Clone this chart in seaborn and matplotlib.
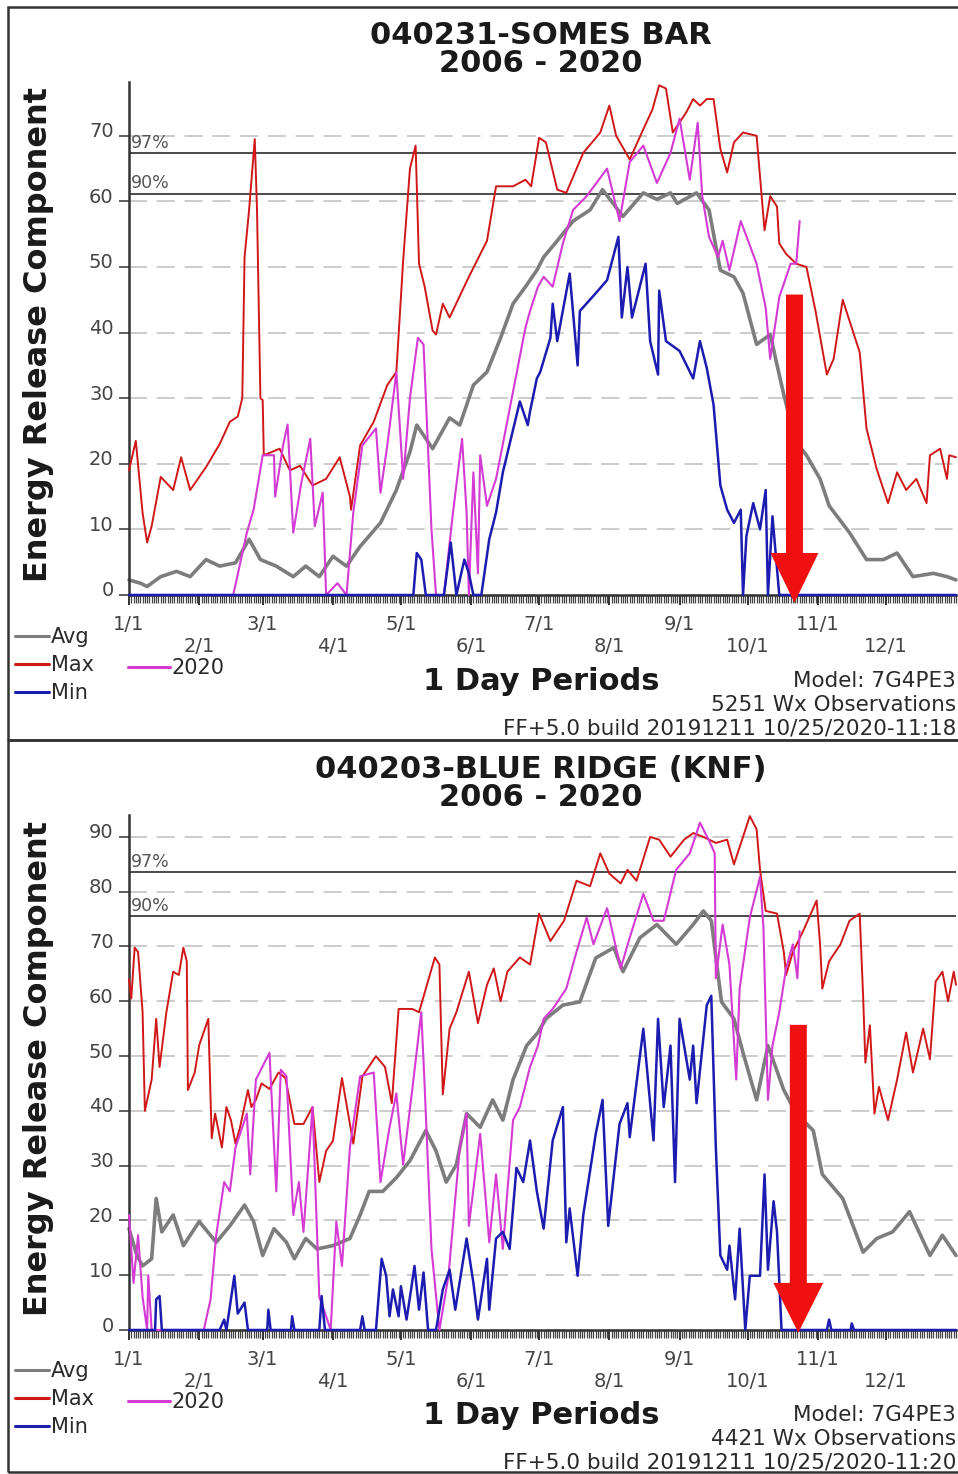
import matplotlib
matplotlib.use("Agg")
import matplotlib.pyplot as plt
import matplotlib.transforms as mtransforms
from matplotlib.patches import Rectangle, FancyArrow
from matplotlib.lines import Line2D
import pandas as pd
import seaborn as sns

# ------------------------------------------------------------------ data
# x = day of year counted from Jan 1 (0), y = Energy Release Component
MONTH_DAYS = [0, 31, 59, 90, 120, 151, 181, 212, 243, 273, 304, 334]
MONTH_LABELS = ["1/1", "2/1", "3/1", "4/1", "5/1", "6/1",
                "7/1", "8/1", "9/1", "10/1", "11/1", "12/1"]

# ---- 040231 SOMES BAR
SB_MAX_DAY = [0, 3, 6, 8, 10, 14, 19.5, 23, 27, 34, 40, 44.5, 48, 50, 51, 53, 55.5, 56.5, 58, 59,
              59.5, 66.5, 71, 75.5, 81, 87, 93, 97.5, 98, 102, 108, 114, 118, 121, 124, 126.5, 128,
              130.5, 134, 135.5, 138.5, 141.5, 150, 158, 162, 169.5, 175, 177.5, 181, 184, 189, 193,
              200.5, 208, 212, 215, 221, 227, 231, 234, 237, 240, 246, 249, 252, 255, 258, 261, 264,
              267, 271, 277, 278.5, 280.5, 283, 286, 287, 290, 294.5, 299, 303, 308, 311, 315, 322.5,
              325.5, 330, 335, 339, 343, 347.5, 352, 353.5, 358, 361, 362, 365]
SB_MAX_VAL = [19, 23.5, 12.5, 8, 10.5, 18, 16, 21, 16, 19.5, 23, 26.4, 27.2, 30, 51.5, 58.7, 69.5, 58.7,
              30, 29.7, 21.3, 22.3, 19, 19.7, 16.7, 17.7, 21, 15, 13, 22.8, 26.4, 32, 34, 51, 65, 68.5,
              50.5, 47, 40.3, 39.7, 44.4, 42.3, 48.5, 54, 62.3, 62.3, 63.3, 62.3, 69.7, 69, 61.8, 61.3,
              67.4, 70.5, 74.6, 70, 66.4, 71, 74, 77.7, 77.2, 70.5, 73.6, 75.6, 74.6, 75.6, 75.6, 68,
              64.4, 69, 70.5, 70, 63.8, 55.6, 60.8, 59.2, 53.6, 52, 50.5, 50, 43.3, 33.6, 36, 45, 37,
              25.4, 19.2, 14, 18.7, 16, 17.7, 14, 21.3, 22.3, 17.7, 21.3, 21]

SB_AVG_DAY = [0, 5, 8, 14, 21, 27, 34, 40, 47, 53, 58, 65, 72.5, 78, 84, 90, 96, 102, 111, 118, 124,
              127, 134, 141.5, 146, 152, 158, 164, 169.5, 175, 180, 183, 189, 196, 203.5, 209, 218,
              227, 233, 239, 242, 250.5, 256, 261, 267, 271, 277, 283, 289, 294.5, 299, 305, 309, 318,
              325.5, 333, 339, 346, 355, 361, 365]
SB_AVG_VAL = [2.3, 1.8, 1.3, 2.8, 3.6, 2.8, 5.4, 4.4, 4.9, 8.5, 5.4, 4.4, 2.8, 4.4, 2.8, 5.9, 4.4, 7.4,
              11, 16, 21.8, 25.9, 22.3, 27, 25.9, 32, 34, 39.2, 44.4, 47, 49.5, 51.5, 54, 57, 58.7,
              61.8, 57.7, 61.3, 60.3, 61.3, 59.7, 61.3, 58.7, 49.5, 48.5, 46, 38.2, 39.7, 30.5, 23.3,
              21.3, 17.7, 13.6, 9.5, 5.4, 5.4, 6.4, 2.8, 3.3, 2.8, 2.3]

SB_2020_DAY = [0, 46, 52, 55, 59, 64, 64.5, 68, 70, 72.5, 76, 80, 82, 85.5, 87, 92, 96, 99, 103, 109,
               111, 114, 118, 121, 124, 127.5, 130, 133.5, 135.5, 139, 143, 147, 149, 150, 152, 154,
               155, 158, 162, 169.5, 175, 177, 180.5, 183, 187, 191.5, 196, 202, 211, 216.5, 221, 227,
               233, 239, 243, 247.5, 251, 253, 256, 260, 262, 265, 270, 277, 281, 283, 287, 292,
               294.5, 296]
SB_2020_VAL = [0, 0, 9.5, 13, 21.3, 21.3, 15, 22.8, 26, 9.5, 17, 23.8, 10.5, 15.6, 0, 1.8, 0, 12.6,
               22.8, 25.4, 15.6, 22.8, 34, 17.7, 30, 39.2, 38.2, 10, 0, 0, 12.6, 23.8, 12.6, 0, 18.7,
               3.3, 21.3, 13.6, 17.7, 31, 40.8, 43.3, 47, 48.5, 47, 53.6, 58.7, 60.8, 65, 57, 66, 68.5,
               62.8, 67.4, 72.6, 63.3, 72, 60.8, 54.6, 51.5, 54, 49.5, 57, 50.5, 43.8, 36, 45.4, 50.5,
               50.5, 57]

SB_MIN_DAY = [0, 125.5, 127, 129, 131, 139, 142, 144.5, 148, 150, 152, 155.5, 159, 162, 165, 172.5,
              176, 177, 180, 181.5, 186, 187, 189, 194.5, 198, 199, 206, 211, 216, 217.5, 220, 222,
              228, 230, 233.5, 234, 237, 243, 249, 252, 255, 258, 261, 264, 267, 270, 271, 272.5,
              275.5, 278.5, 281, 282, 284, 287, 365]
SB_MIN_VAL = [0, 0, 6.4, 5.4, 0, 0, 8, 0, 5.4, 3.3, 0, 0, 8.5, 12.6, 18.7, 29.5, 25.9, 28, 33, 34,
              39.2, 44.4, 38.7, 49, 35, 43.3, 46, 48, 54.6, 42.3, 50, 42.3, 50.5, 38.7, 33.6, 46.4,
              38.7, 37.2, 33, 38.7, 34.6, 29, 16.7, 13, 11, 13, 0, 9, 14, 10, 16, 0, 12, 0, 0]

# ---- 040203 BLUE RIDGE (KNF)
BR_MAX_DAY = [0, 1, 2.5, 4, 6, 7, 10, 12, 13.5, 16.5, 19.5, 22, 24, 25.5, 26, 29, 31, 35, 36.5, 38,
              41, 43, 45, 47, 49, 52.5, 54, 56, 58.5, 62, 66, 69, 73, 77, 81, 84, 87, 90, 94, 99, 103,
              109, 113, 116, 119, 125, 128, 135, 137, 138.5, 141.5, 144.5, 150, 154, 158, 161, 164,
              167, 172.5, 177, 181, 186, 192, 197.5, 203.5, 208, 212, 217, 220, 224, 230, 234, 239,
              245, 249, 253.5, 259, 264, 267, 271, 274, 277, 278.5, 281, 286, 289, 290, 293, 297.5,
              303.5, 305, 306, 309, 314, 318, 322.5, 324, 325, 327, 329, 331, 335, 339, 343, 346,
              350.5, 353.5, 356, 359, 361.5, 364, 365]
BR_MAX_VAL = [64, 60.5, 69.8, 69, 58, 40, 45.7, 56.8, 48, 58, 65.4, 64.8, 69.8, 67.3, 43.8, 47, 52,
              56.8, 35, 39.5, 33.3, 40.7, 38.3, 34, 37, 43.8, 40.7, 42, 45, 44, 47, 46, 37.6, 37.6,
              40.7, 27, 32.7, 34.5, 46, 34, 46.3, 50, 48, 41.4, 58.6, 58.6, 58, 68, 66.7, 43, 55, 58,
              65.4, 56, 63, 66, 60, 65.4, 68, 66.7, 76, 71, 74.7, 82, 81, 87, 83.3, 81.5, 84, 82, 90,
              89.5, 86.4, 89.5, 90.7, 90, 88.9, 89.5, 85, 90, 93.8, 91.4, 84, 76.5, 76, 69, 64.8, 69,
              72.8, 78.4, 70.4, 62.3, 67.3, 70.4, 74.7, 76, 61, 48.8, 55.6, 39.5, 44.4, 38.3, 45.7,
              54.3, 47, 55, 49.4, 63.6, 65.4, 60, 65.4, 63]

BR_AVG_DAY = [0, 3.5, 6, 10, 12, 14.5, 19.5, 24, 31, 38.5, 44.5, 51, 55, 59, 64, 69.5, 73, 78, 83, 90,
              97.5, 102, 106, 112, 118, 124, 131, 135.5, 140, 144.5, 149, 155, 160.5, 165, 169.5,
              175.5, 180.5, 184, 191.5, 199, 206, 214, 218, 225.5, 233, 241.5, 249, 253.5, 257,
              261.5, 267, 271, 277, 282, 289, 294.5, 302, 306, 315, 324, 330, 337, 344.5, 353.5, 359,
              365]
BR_AVG_VAL = [18.5, 13.6, 11.7, 13, 24, 17.9, 21, 15.4, 19.8, 16, 19, 22.8, 19.8, 13.6, 18.5, 16, 13,
              16.7, 14.8, 15.4, 16.7, 21, 25.3, 25.3, 27.8, 30.9, 36.4, 32.7, 27, 30.2, 39.5, 37, 42,
              38.3, 45.7, 51.9, 54.3, 56.8, 59.3, 59.9, 67.9, 69.8, 65.4, 71.6, 74, 70.4, 74, 76.5,
              74.7, 59.9, 56.8, 50.6, 42, 51.9, 43.8, 39.5, 36.4, 28.4, 24, 14.2, 16.7, 17.9, 21.6,
              13.6, 17.3, 13.6]

BR_2020_DAY = [0, 2, 4, 6, 8, 8.5, 10, 33, 36, 38.5, 42, 44.5, 47, 52, 53.5, 56, 62, 65, 67, 69.5,
               72.5, 75, 77, 81, 84, 87, 89, 91.5, 94, 97.5, 102, 108, 111, 115, 118, 121, 125, 129,
               130.5, 133.5, 137, 141, 146, 149, 150, 155, 159, 162, 165, 169.5, 172.5, 177, 180.5,
               183, 187, 193, 197.5, 202, 205, 211, 217, 221, 227, 231.5, 236, 241.5, 247.5, 252,
               256.5, 258.5, 259, 262, 265, 268, 269.5, 274, 278.5, 280, 282, 284, 287, 290, 293,
               295, 296]
BR_2020_VAL = [21, 8.6, 17.3, 6, 0, 10, 0, 0, 5.6, 17.3, 27, 25.3, 33.3, 39.5, 28.4, 45.7, 50.6, 25.3,
               47.5, 46.3, 21, 27, 17.9, 40.7, 6, 2.5, 0, 19.8, 11.7, 33.3, 46.3, 47, 27, 37, 43.2,
               30.2, 43.8, 58, 44.4, 14.8, 0, 9.9, 33.3, 39.5, 19, 35.8, 16, 28.4, 14.8, 38.3, 40.7,
               48, 51.9, 56.8, 58.6, 62.3, 69, 75.3, 70.4, 77, 66, 71.6, 79.6, 74.7, 74.7, 84, 87,
               92.6, 88.9, 87, 64.2, 74, 66.7, 45.7, 62.3, 75.3, 82.7, 73.5, 42, 51.9, 58, 66, 70.4,
               64.2, 72.8]

BR_MIN_DAY = [0, 11.5, 12, 13.5, 14.5, 40, 42, 43, 46.5, 48, 51, 52.5, 61, 61.5, 62.5, 71.5, 72, 73,
              84, 85, 86.5, 102, 103, 104, 109, 111.5, 113.5, 115, 116.5, 119, 120, 122.5, 124.5, 126,
              128, 130, 132, 135.5, 138.5, 141.5, 144, 149, 152, 154, 158, 159, 162, 165, 168, 171,
              174, 177, 180, 183, 187, 191.5, 193, 194.5, 198, 200.5, 206, 209, 211.5, 216.5, 220,
              221, 227, 231.5, 233.5, 236, 239, 241, 243, 247.5, 249, 250.5, 255, 257, 259, 261, 264,
              265, 267.5, 269.5, 272, 274, 278.5, 280.5, 282, 284.5, 286, 288, 308, 309, 310, 318.5,
              319, 320, 365]
BR_MIN_VAL = [0, 0, 5.6, 6.2, 0, 0, 1.9, 0, 9.9, 3, 5, 0, 0, 3.7, 0, 0, 2.5, 0, 0, 6.2, 0, 0, 2.5, 0,
              0, 13, 9.9, 2.5, 7.4, 2.5, 8, 1.9, 7.4, 11.7, 3.7, 10.5, 0, 0, 7.4, 11, 3.7, 16.7, 8.6,
              1.9, 13, 3.7, 16.7, 17.9, 14.8, 29.6, 27, 34.6, 25.3, 18.5, 34.6, 40.7, 16, 22.2, 9.9,
              21, 35.8, 42, 19, 37.6, 41.4, 35.2, 55, 34.6, 56.8, 40.7, 51.9, 27, 56.8, 45.7, 51.9,
              41.4, 59.3, 61, 33.3, 13.6, 11, 15.4, 5.6, 18.5, 0, 9.9, 9.9, 28.4, 11, 23.5, 17.9, 0,
              0, 1.9, 0, 0, 1.2, 0, 0]

# percentile thresholds (97%, 90%)
SB_PCT = [67.4, 61.2]
BR_PCT = [83.6, 75.5]
PCT_LABELS = ["97%", "90%"]

# ------------------------------------------------------------------ style
sns.set_theme(style="white")
plt.rcParams["font.family"] = ["DejaVu Sans"]
plt.rcParams["lines.scale_dashes"] = False

W, H = 958, 1474
fig = plt.figure(figsize=(W / 100, H / 100), dpi=100)
fig.patch.set_facecolor("white")

C_AVG, C_MAX, C_MIN, C_20 = "#7d7d7d", "#d01818", "#1c1cb0", "#d43ad4"
TXT = "#2a2a2a"
TICK = "#444444"


def fx(px):
    return px / W


def fy(py):
    return 1 - py / H


panels = [
    dict(title="040231-SOMES BAR", obs="5251 Wx Observations",
         stamp="FF+5.0 build 20191211 10/25/2020-11:18", dy=0, top=82, bottom=595,
         ymax=78.2, yticks=list(range(0, 80, 10)), pct=SB_PCT,
         avg=(SB_AVG_DAY, SB_AVG_VAL), mx=(SB_MAX_DAY, SB_MAX_VAL),
         y20=(SB_2020_DAY, SB_2020_VAL), mn=(SB_MIN_DAY, SB_MIN_VAL),
         arrow=dict(x=293.7, top=45.8, tip=-1.2, w=7.5, hw=21.2, hl=7.6)),
    dict(title="040203-BLUE RIDGE (KNF)", obs="4421 Wx Observations",
         stamp="FF+5.0 build 20191211 10/25/2020-11:20", dy=734, top=815, bottom=1330,
         ymax=94, yticks=list(range(0, 100, 10)), pct=BR_PCT,
         avg=(BR_AVG_DAY, BR_AVG_VAL), mx=(BR_MAX_DAY, BR_MAX_VAL),
         y20=(BR_2020_DAY, BR_2020_VAL), mn=(BR_MIN_DAY, BR_MIN_VAL),
         arrow=dict(x=295.4, top=55.7, tip=-0.5, w=7.5, hw=22, hl=9.1)),
]

# panel frames
fig.patches.append(Rectangle((fx(8), fy(740)), fx(965) - fx(8), fy(7) - fy(740),
                             transform=fig.transFigure, fill=False, ec="#333333", lw=1.8))
fig.patches.append(Rectangle((fx(8), fy(1472)), fx(965) - fx(8), fy(740) - fy(1472),
                             transform=fig.transFigure, fill=False, ec="#333333", lw=1.8))

for p in panels:
    dy = p["dy"]
    ax = fig.add_axes([fx(129), fy(p["bottom"]), fx(956) - fx(129), fy(p["top"]) - fy(p["bottom"])])
    ax.set_facecolor("white")
    ax.set_xlim(0, 365)
    ax.set_ylim(0, p["ymax"])
    ax.set_axisbelow(True)
    ax.yaxis.grid(True, color="#c8c8c8", linestyle=(0, (13, 7)), lw=1.3)
    ax.xaxis.grid(False)

    for val, lab in zip(p["pct"], PCT_LABELS):
        ax.axhline(val, color="#4a4a4a", lw=1.4, zorder=1.5)
        ax.text(1, val + 0.2, lab, ha="left", va="bottom", fontsize=12.5, color="#555555")

    series = [("avg", C_AVG, 2.6, 2), ("mx", C_MAX, 1.4, 3), ("y20", C_20, 1.5, 4), ("mn", C_MIN, 1.8, 5)]
    for key, col, lw, z in series:
        d, v = p[key]
        df = pd.DataFrame({"day": d, "erc": v})
        sns.lineplot(data=df, x="day", y="erc", ax=ax, color=col, linewidth=lw,
                     estimator=None, sort=False, legend=False, zorder=z, clip_on=False)

    a = p["arrow"]
    ax.add_patch(FancyArrow(a["x"], a["top"], 0, a["tip"] - a["top"], width=a["w"],
                            head_width=a["hw"], head_length=a["hl"], length_includes_head=True,
                            color="#f01010", lw=0, zorder=10, clip_on=False))

    sns.despine(ax=ax)
    for s in ("left", "bottom"):
        ax.spines[s].set_color("#333333")
        ax.spines[s].set_linewidth(1.8)
    ax.set_xlabel("")
    ax.set_ylabel("")

    ax.set_yticks(p["yticks"])
    ax.set_yticklabels([str(t) for t in p["yticks"]])
    ax.tick_params(axis="y", which="major", direction="out", length=7, width=1.2, color=TICK,
                   labelsize=14, labelcolor=TICK, pad=4, left=True)
    off = mtransforms.ScaledTranslation(0, 6 / 100, fig.dpi_scale_trans)
    for lbl in ax.get_yticklabels():
        lbl.set_transform(lbl.get_transform() + off)

    ax.set_xticks(MONTH_DAYS)
    ax.set_xticklabels([lab if i % 2 == 0 else "\n" + lab for i, lab in enumerate(MONTH_LABELS)])
    ax.set_xticks(list(range(0, 366)), minor=True)
    ax.tick_params(axis="x", which="major", direction="out", length=7.5, width=1.4, color="#333333",
                   labelsize=14, labelcolor=TICK, pad=7, bottom=True)
    ax.tick_params(axis="x", which="minor", direction="out", length=6, width=0.9, color="#444444",
                   bottom=True)

    # texts
    fig.text(fx(541), fy(35 + dy), p["title"], ha="center", va="center", fontsize=22,
             fontweight="bold", color="#1a1a1a")
    fig.text(fx(541), fy(63 + dy), "2006 - 2020", ha="center", va="center", fontsize=22,
             fontweight="bold", color="#1a1a1a")
    fig.text(fx(39), fy((p["top"] + p["bottom"]) / 2 - 4), "Energy Release Component",
             rotation=90, ha="center", va="center", fontsize=23, fontweight="bold", color="#1a1a1a")
    fig.text(fx(541), fy(682 + dy), "1 Day Periods", ha="center", va="center", fontsize=22,
             fontweight="bold", color="#1a1a1a")
    fig.text(fx(956), fy(681 + dy), "Model: 7G4PE3", ha="right", va="center", fontsize=15.5, color=TXT)
    fig.text(fx(956), fy(705 + dy), p["obs"], ha="right", va="center", fontsize=15.5, color=TXT)
    fig.text(fx(956), fy(729 + dy), p["stamp"], ha="right", va="center", fontsize=15.5, color=TXT)

    # legends
    h1 = [Line2D([], [], color=C_AVG, lw=2.2), Line2D([], [], color=C_MAX, lw=2.2),
          Line2D([], [], color=C_MIN, lw=2.2)]
    leg1 = ax.legend(h1, ["Avg", "Max", "Min"], loc="center left",
                     bbox_to_anchor=(fx(15), fy(665 + dy)), bbox_transform=fig.transFigure,
                     frameon=False, fontsize=15, labelcolor=TXT, handlelength=1.65,
                     handletextpad=0.08, labelspacing=0.38, borderpad=0, borderaxespad=0)
    ax.add_artist(leg1)
    h2 = [Line2D([], [], color=C_20, lw=2.2)]
    ax.legend(h2, ["2020"], loc="center left", bbox_to_anchor=(fx(128), fy(668 + dy)),
              bbox_transform=fig.transFigure, frameon=False, fontsize=15, labelcolor=TXT,
              handlelength=2.0, handletextpad=0.08, borderpad=0, borderaxespad=0)

fig.savefig("out.png", dpi=100, facecolor="white")
